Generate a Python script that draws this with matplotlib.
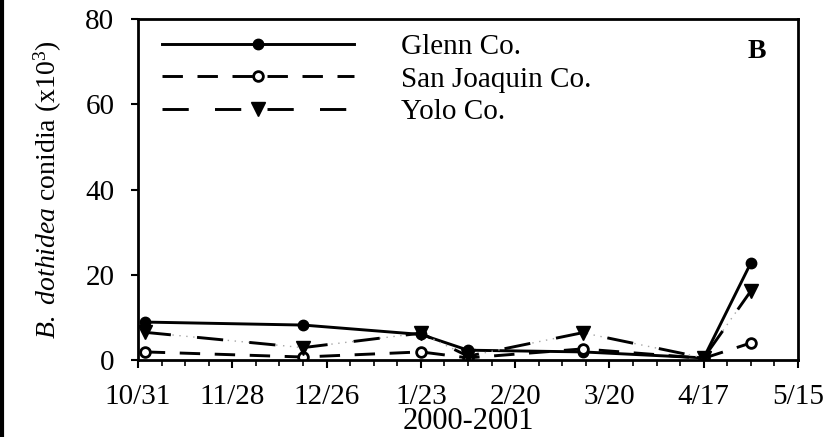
import matplotlib
matplotlib.use("Agg")
import matplotlib.pyplot as plt
from matplotlib.lines import Line2D
import pandas as pd

plt.rcParams['font.family'] = ['Liberation Serif', 'DejaVu Serif']
plt.rcParams['mathtext.fontset'] = 'custom'
plt.rcParams['mathtext.rm'] = 'Liberation Serif'
plt.rcParams['mathtext.it'] = 'Liberation Serif:italic'

# sampling dates (2000-2001 season)
dates = pd.to_datetime(["2000-11-02", "2000-12-19", "2001-01-23", "2001-02-06",
                        "2001-03-12", "2001-04-17", "2001-05-01"])
glenn = [8.9, 8.2, 6.0, 2.3, 1.9, 0.5, 22.8]
san_joaquin = [1.9, 0.7, 1.9, 0.5, 2.6, 0.4, 4.0]
yolo = [6.5, 2.9, 6.3, 0.9, 6.4, 0.5, 16.2]

tick_dates = pd.date_range("2000-10-31", periods=8, freq="28D")
tick_labels = [f"{d.month}/{d.day}" for d in tick_dates]

fig = plt.figure(figsize=(8.25, 4.37), dpi=100)
ax = fig.add_axes([0.1673, 0.1762, 0.800, 0.7803])

ax.plot(dates, glenn, '-', color='black', lw=2.1, marker='o', ms=7.5,
        label='Glenn Co.')
ax.plot(dates, san_joaquin, color='black', lw=2.1, dashes=(7, 5), marker='o',
        ms=7, mfc='white', mew=2, label='San Joaquin Co.')
# Yolo: faint dotted line under long black dashes
ax.plot(dates, yolo, color='0.65', lw=1, dashes=(1, 4))
ax.plot(dates, yolo, color='black', lw=2.1, dashes=(9, 9),
        marker='v', ms=9.5, label='Yolo Co.')

ax.set_xlim(tick_dates[0], tick_dates[-1])
ax.set_ylim(0, 80)
ax.set_yticks([0, 20, 40, 60, 80])
ax.set_xticks(tick_dates)
ax.set_xticklabels(tick_labels)
ax.set_xticks(pd.date_range("2000-10-31", "2001-05-15", freq="7D"), minor=True)

ax.tick_params(axis='y', which='major', labelsize=21, direction='out',
               length=5, width=1.5, pad=12)
ax.tick_params(axis='x', which='major', labelsize=21, direction='out',
               length=6, width=1.5, pad=11)
ax.tick_params(axis='x', which='minor', direction='out', length=4, width=1.2)
for sp in ax.spines.values():
    sp.set_linewidth(2)

ax.set_xlabel("2000-2001", fontsize=22, labelpad=-2)
ax.set_ylabel(r"$\it{B.\ dothidea}$ conidia (x10$^3$)", fontsize=20,
              labelpad=15)

leg = ax.legend(loc='upper left', bbox_to_anchor=(0.007, 1.012), frameon=False,
                fontsize=21, handlelength=6.6, handletextpad=1.6,
                labelspacing=0.2, borderaxespad=0.35, borderpad=0.3)

ax.text(0.937, 0.905, "B", transform=ax.transAxes, fontsize=20,
        fontweight='bold', ha='center', va='center')

# border rule down the left edge
fig.add_artist(Line2D([0.002, 0.002], [0, 1], transform=fig.transFigure,
                      color='black', lw=3))

fig.savefig("out.png", dpi=100)
